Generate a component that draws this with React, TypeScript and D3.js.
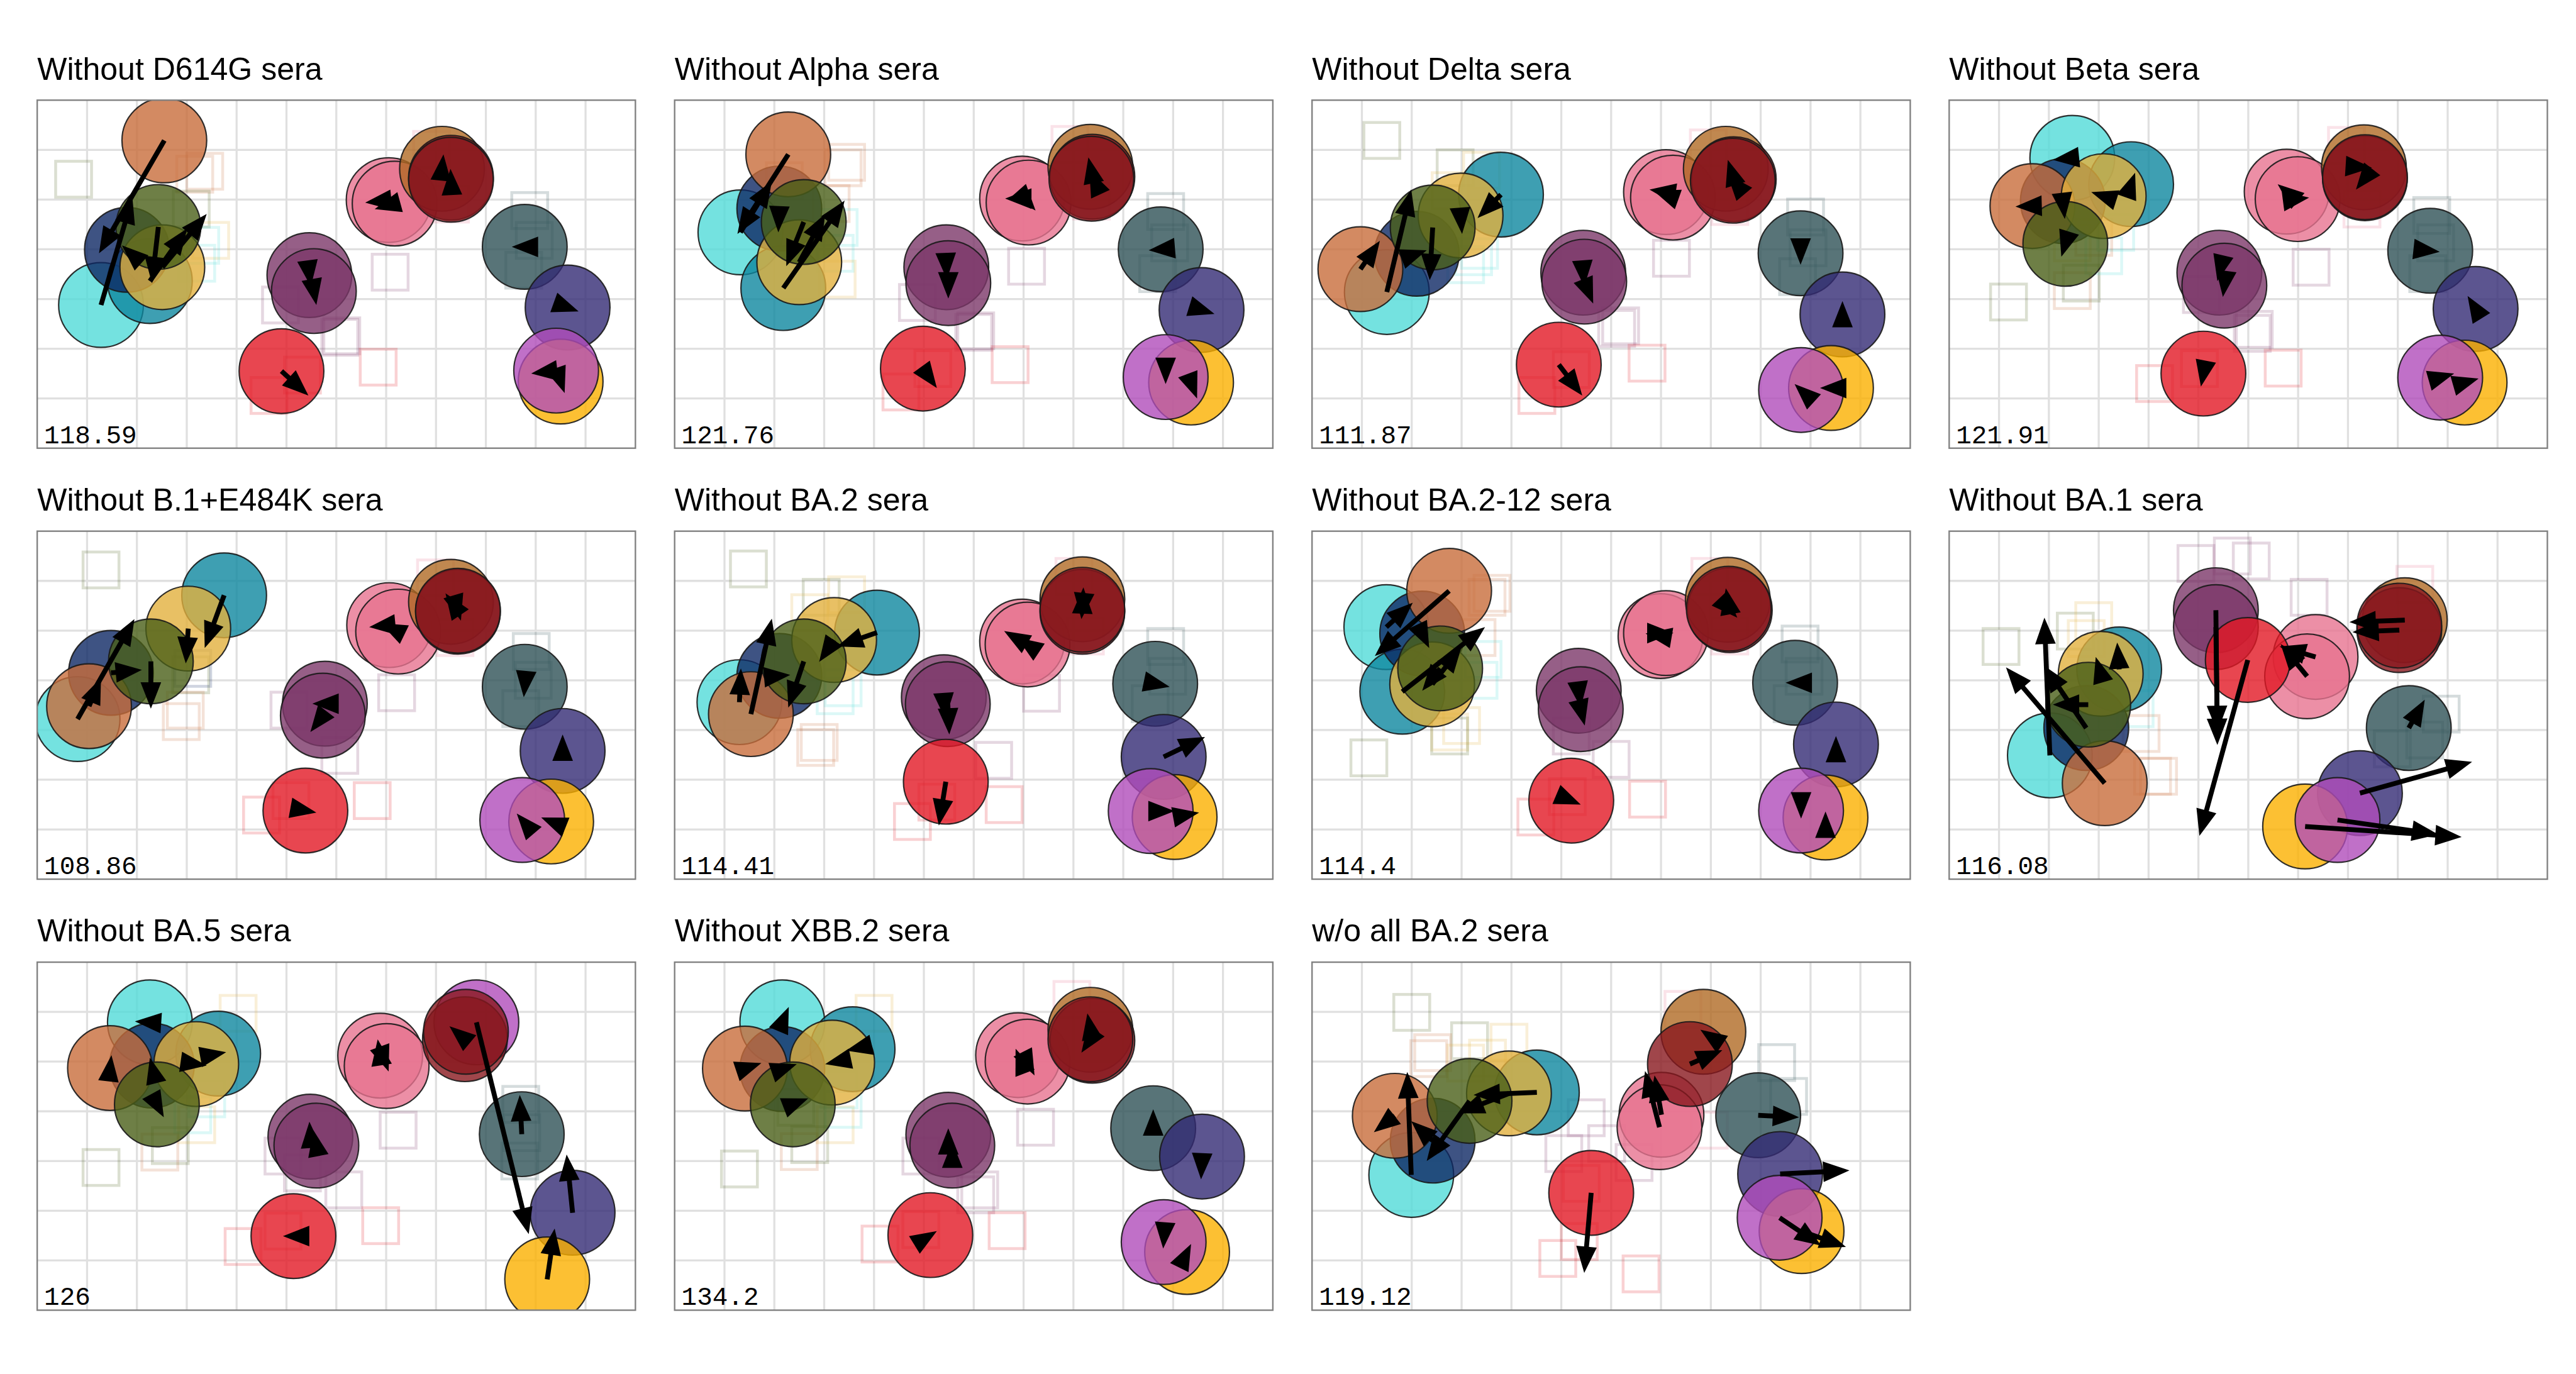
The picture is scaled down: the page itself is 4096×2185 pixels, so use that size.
import React from "react";
import * as d3 from "d3";

const K = 4096 / 4500;
const SVG_W = 4096;
const SVG_H = 2185;

// ---------- data ----------
const ANTIGEN_KEYS = ["cyan", "teal", "navy", "orange", "gold", "olive", "purpleA", "purpleB", "pinkA", "pinkB", "red", "slate", "indigo", "yellow", "orchid", "brown", "maroonA", "maroonB"];
const ANTIGEN_FILLS = ["#51DBD8", "#0E879F", "#0E2864", "#C86D3B", "#E2B03D", "#4A5F18", "#7C3769", "#7C3769", "#E77390", "#E77390", "#E21824", "#2E5156", "#332B74", "#FBB000", "#B04CBA", "#B06A24", "#88181E", "#88181E"];

const TITLES = ["Without D614G sera", "Without Alpha sera", "Without Delta sera", "Without Beta sera", "Without B.1+E484K sera", "Without BA.2 sera", "Without BA.2-12 sera", "Without BA.1 sera", "Without BA.5 sera", "Without XBB.2 sera", "w/o all BA.2 sera"];
const STRESS = ["118.59", "121.76", "111.87", "121.91", "108.86", "114.41", "114.4", "116.08", "126", "134.2", "119.12"];

type A = [number, number, number, number] | null;
type S = [string, number, number];

// antigen [x, y, arrowX, arrowY] in map units, order = ANTIGEN_KEYS
const AG_D614G: A[] = [[1.28, 4.12, 1.91, 1.96], [2.26, 3.64, 3.01, 2.58], [1.80, 3.01, 1.70, 2.92], [2.55, 0.81, 1.24, 3.08], [2.51, 3.36, 3.40, 2.29], [2.43, 2.55, 2.30, 3.68], [5.46, 3.52, 5.49, 3.75], [5.55, 3.84, 5.60, 4.12], [7.05, 2.01, 6.58, 2.06], [7.17, 2.08, 6.77, 2.19], [4.90, 5.45, 5.44, 5.94], [9.78, 2.95, 9.52, 2.95], [10.64, 4.17, 10.86, 4.25], [10.50, 5.66, 10.58, 5.89], [10.41, 5.44, 9.91, 5.50], [8.12, 1.38, 8.15, 1.09], [8.30, 1.56, 8.29, 1.38], [8.30, 1.60, 8.30, 1.60]];
const AG_ALPHA: A[] = [[1.32, 2.66, 1.95, 1.63], [2.18, 3.78, 3.41, 2.02], [2.10, 2.18, 2.08, 2.66], [2.28, 1.09, 1.26, 2.69], [2.50, 3.26, 3.02, 2.29], [2.59, 2.45, 2.24, 3.34], [5.45, 3.36, 5.46, 3.60], [5.49, 3.68, 5.49, 3.99], [6.97, 1.98, 6.63, 1.98], [7.10, 2.06, 7.24, 2.22], [4.98, 5.40, 5.26, 5.79], [9.75, 3.00, 9.51, 3.02], [10.57, 4.22, 10.83, 4.30], [10.36, 5.68, 10.48, 6.00], [9.85, 5.57, 9.85, 5.71], [8.34, 1.34, 8.30, 1.15], [8.38, 1.54, 8.32, 1.41], [8.36, 1.58, 8.36, 1.58]];
const AG_DELTA: A[] = [[1.50, 3.86, 1.99, 1.80], [3.79, 1.90, 3.32, 2.37], [2.10, 3.09, 2.30, 3.02], [0.97, 3.40, 1.36, 2.83], [2.98, 2.32, 3.01, 2.69], [2.42, 2.56, 2.36, 3.62], [5.44, 3.47, 5.46, 3.75], [5.46, 3.65, 5.64, 4.09], [7.10, 1.85, 6.77, 1.80], [7.24, 1.96, 6.85, 1.82], [4.95, 5.32, 5.42, 5.94], [9.80, 3.08, 9.80, 3.31], [10.64, 4.31, 10.64, 4.04], [10.41, 5.79, 10.19, 5.79], [9.81, 5.83, 9.68, 5.71], [8.30, 1.38, 8.30, 1.38], [8.46, 1.59, 8.34, 1.20], [8.44, 1.62, 8.33, 1.49]];
const AG_BETA: A[] = [[2.47, 1.16, 2.08, 1.20], [3.65, 1.69, 3.73, 1.46], [2.28, 2.03, 2.32, 2.39], [1.67, 2.13, 1.33, 2.14], [3.10, 1.93, 2.85, 1.85], [2.33, 2.89, 2.25, 3.15], [5.42, 3.47, 5.38, 3.64], [5.52, 3.73, 5.49, 3.96], [6.77, 1.84, 6.59, 1.69], [6.99, 1.99, 7.22, 1.96], [5.10, 5.50, 5.05, 5.76], [9.65, 3.03, 9.84, 3.05], [10.56, 4.20, 10.40, 3.94], [10.34, 5.68, 10.62, 5.60], [9.85, 5.58, 10.13, 5.50], [8.32, 1.35, 8.48, 1.36], [8.34, 1.57, 8.16, 1.80], [8.34, 1.55, 8.34, 1.55]];
const AG_E484K: A[] = [[0.81, 3.78, 1.95, 1.77], [3.75, 1.29, 3.36, 2.35], [1.48, 2.85, 2.10, 2.79], [1.04, 3.52, 1.28, 2.95], [3.03, 1.96, 2.98, 2.66], [2.28, 2.62, 2.28, 3.57], [5.77, 3.47, 5.52, 3.47], [5.73, 3.71, 5.48, 4.04], [7.06, 1.89, 6.66, 1.93], [7.24, 2.02, 6.89, 1.85], [5.38, 5.62, 5.60, 5.66], [9.78, 3.13, 9.76, 3.34], [10.54, 4.42, 10.54, 4.09], [10.31, 5.84, 10.11, 5.76], [9.73, 5.81, 9.62, 5.68], [8.30, 1.42, 8.30, 1.42], [8.44, 1.62, 8.19, 1.25], [8.44, 1.60, 8.50, 1.80]];
const AG_BA2: A[] = [[1.30, 3.44, 1.33, 2.76], [4.06, 2.04, 3.26, 2.32], [2.10, 2.91, 2.32, 2.89], [1.53, 3.68, 1.95, 1.76], [3.20, 2.19, 2.90, 2.63], [2.59, 2.62, 2.28, 3.55], [5.40, 3.34, 5.43, 3.78], [5.48, 3.48, 5.51, 4.09], [6.97, 2.22, 6.61, 2.01], [7.08, 2.28, 6.87, 2.14], [5.44, 5.04, 5.30, 5.92], [9.64, 3.07, 9.93, 3.13], [9.81, 4.54, 10.64, 4.14], [10.03, 5.75, 10.52, 5.66], [9.55, 5.63, 10.03, 5.63], [8.18, 1.37, 8.18, 1.37], [8.18, 1.62, 8.20, 1.13], [8.18, 1.58, 8.16, 1.77]];
const AG_BA212: A[] = [[1.49, 1.93, 2.02, 1.44], [1.81, 3.23, 3.47, 1.93], [2.21, 2.06, 2.35, 2.35], [2.75, 1.20, 1.26, 2.51], [2.41, 3.08, 3.00, 2.32], [2.57, 2.76, 2.21, 3.21], [5.35, 3.21, 5.39, 3.55], [5.39, 3.58, 5.47, 3.91], [6.99, 2.11, 6.69, 2.06], [7.10, 2.05, 7.25, 2.05], [5.20, 5.42, 5.39, 5.50], [9.69, 3.05, 9.50, 3.05], [10.51, 4.29, 10.51, 4.12], [10.30, 5.76, 10.30, 5.64], [9.81, 5.62, 9.81, 5.78], [8.34, 1.38, 8.34, 1.38], [8.38, 1.59, 8.30, 1.15], [8.36, 1.56, 8.53, 1.74]];
const AG_BA1: A[] = [[2.02, 4.51, 1.91, 1.74], [3.41, 2.78, 3.37, 2.24], [2.75, 3.96, 1.91, 2.71], [3.12, 5.07, 1.14, 2.74], [3.04, 2.87, 2.94, 2.53], [2.79, 3.49, 2.08, 3.49], [5.35, 1.59, 5.38, 4.30], [5.35, 1.93, 5.38, 4.04], [7.35, 2.53, 6.63, 2.32], [7.18, 2.92, 6.65, 2.27], [5.99, 2.59, 5.02, 6.13], [9.22, 3.96, 9.54, 3.39], [8.24, 5.27, 10.49, 4.64], [7.14, 5.94, 10.28, 6.15], [7.79, 5.81, 9.81, 6.10], [9.14, 1.79, 8.03, 1.83], [9.03, 1.99, 8.09, 2.03], [9.03, 1.90, 9.03, 1.90]];
const AG_BA5: A[] = [[2.26, 1.21, 1.96, 1.19], [3.63, 1.84, 3.79, 1.81], [2.30, 2.08, 2.26, 1.92], [1.46, 2.13, 1.49, 1.87], [3.19, 2.05, 3.40, 2.08], [2.40, 2.86, 2.54, 3.12], [5.48, 3.51, 5.46, 3.21], [5.60, 3.69, 5.54, 3.38], [6.88, 1.88, 6.83, 1.55], [7.01, 2.09, 7.05, 2.20], [5.14, 5.51, 4.93, 5.51], [9.72, 3.46, 9.68, 2.67], [10.74, 5.04, 10.62, 3.87], [10.23, 6.38, 10.38, 5.36], [8.81, 1.21, 9.86, 5.47], null, [8.58, 1.55, 8.27, 1.29], [8.60, 1.40, 8.60, 1.40]];
const AG_XBB2: A[] = [[2.16, 1.21, 2.29, 0.90], [3.57, 1.75, 3.44, 1.78], [2.16, 2.15, 2.45, 2.05], [1.41, 2.14, 1.74, 2.03], [3.16, 2.02, 3.02, 2.05], [2.37, 2.86, 2.68, 2.74], [5.49, 3.47, 5.49, 3.34], [5.57, 3.69, 5.57, 3.61], [6.89, 1.87, 6.84, 1.74], [7.08, 2.00, 7.22, 2.28], [5.13, 5.49, 5.26, 5.41], [9.60, 3.34, 9.60, 2.96], [10.58, 3.91, 10.56, 4.37], [10.28, 5.83, 10.36, 5.67], [9.81, 5.63, 9.80, 5.76], [8.34, 1.36, 8.34, 1.36], [8.38, 1.58, 8.28, 1.03], [8.34, 1.55, 8.16, 1.82]];
const AG_ALLBA2: A[] = [[1.99, 4.28, 1.91, 2.21], [4.51, 2.62, 3.24, 2.67], [2.42, 3.59, 1.99, 3.20], [1.66, 3.09, 1.24, 3.42], [3.95, 2.64, 2.93, 3.04], [3.16, 2.79, 2.30, 4.00], null, null, [7.01, 3.07, 6.87, 2.28], [6.97, 3.32, 6.68, 2.19], [5.60, 4.64, 5.46, 6.25], [8.95, 3.08, 9.77, 3.12], [9.39, 4.26, 10.78, 4.19], [9.82, 5.41, 10.71, 5.73], [9.38, 5.14, 10.21, 5.70], [7.85, 1.40, 7.79, 1.36], [7.58, 2.05, 8.23, 1.77], null];

// sera [antigen colour key, x, y]
const SR_D614G: S[] = [["olive", 0.73, 1.59], ["orange", 3.36, 1.43], ["orange", 3.16, 1.49], ["olive", 3.09, 2.19], ["gold", 3.48, 2.82], ["cyan", 3.28, 2.92], ["cyan", 3.20, 3.28], ["purpleA", 4.88, 4.12], ["purpleA", 6.11, 4.74], ["purpleA", 6.07, 4.77], ["purpleA", 7.08, 3.46], ["red", 6.84, 5.37], ["red", 4.65, 5.94], ["red", 5.32, 5.53], ["pinkA", 7.91, 0.99], ["pinkA", 8.29, 2.09], ["slate", 9.88, 2.22], ["slate", 9.97, 2.82], ["slate", 9.76, 3.42]];
const SR_ALPHA: S[] = [["orange", 3.45, 1.25], ["orange", 3.38, 1.36], ["orange", 2.20, 1.62], ["orange", 3.14, 2.08], ["cyan", 3.30, 2.56], ["cyan", 3.22, 3.08], ["gold", 3.26, 3.60], ["purpleA", 4.87, 4.07], ["purpleA", 6.04, 4.64], ["purpleA", 6.00, 4.67], ["purpleA", 7.06, 3.34], ["red", 6.73, 5.32], ["red", 4.54, 5.87], ["red", 5.18, 5.40], ["pinkA", 7.93, 0.89], ["pinkA", 8.36, 2.03], ["slate", 9.85, 2.24], ["slate", 9.93, 2.87], ["slate", 9.69, 3.49]];
const SR_DELTA: S[] = [["olive", 1.40, 0.81], ["olive", 2.87, 1.36], ["gold", 3.40, 1.41], ["gold", 2.77, 1.82], ["cyan", 3.24, 3.15], ["cyan", 3.08, 3.31], ["cyan", 3.36, 3.02], ["purpleA", 7.21, 3.18], ["purpleA", 6.19, 4.54], ["purpleA", 6.11, 4.59], ["red", 6.72, 5.29], ["red", 4.51, 5.94], ["red", 5.20, 5.42], ["pinkA", 7.95, 0.96], ["pinkA", 8.38, 2.14], ["slate", 9.90, 2.35], ["slate", 9.95, 2.97], ["slate", 9.74, 3.55]];
const SR_BETA: S[] = [["olive", 1.19, 4.06], ["orange", 2.47, 3.83], ["olive", 2.65, 3.68], ["cyan", 3.10, 3.13], ["cyan", 3.34, 2.66], ["orange", 2.90, 2.76], ["gold", 2.47, 2.87], ["purpleA", 7.26, 3.36], ["purpleA", 6.08, 4.69], ["purpleA", 6.12, 4.61], ["purpleA", 5.06, 3.91], ["red", 6.70, 5.39], ["red", 4.12, 5.70], ["red", 5.02, 5.40], ["pinkA", 7.97, 0.91], ["pinkA", 8.28, 2.19], ["slate", 9.68, 2.32], ["slate", 9.76, 2.87], ["slate", 9.60, 3.49]];
const SR_E484K: S[] = [["olive", 1.28, 0.78], ["olive", 3.08, 2.89], ["orange", 2.97, 3.60], ["orange", 2.89, 3.83], ["navy", 3.12, 2.76], ["purpleA", 5.05, 3.60], ["purpleA", 6.07, 4.51], ["purpleA", 7.21, 3.25], ["red", 6.72, 5.42], ["red", 4.50, 5.71], ["red", 5.09, 5.42], ["pinkA", 7.99, 0.94], ["pinkA", 8.38, 2.14], ["slate", 9.91, 2.42], ["slate", 9.95, 3.00], ["slate", 9.70, 3.57]];
const SR_BA2: S[] = [["olive", 1.48, 0.76], ["olive", 2.94, 1.33], ["gold", 3.45, 1.28], ["gold", 2.71, 1.64], ["cyan", 3.38, 3.15], ["cyan", 3.22, 3.31], ["orange", 2.90, 4.25], ["orange", 2.83, 4.35], ["purpleA", 7.36, 3.26], ["purpleA", 6.40, 4.61], ["red", 6.61, 5.50], ["red", 4.77, 5.84], ["red", 5.26, 5.45], ["pinkA", 8.01, 0.91], ["pinkA", 8.24, 2.11], ["slate", 9.85, 2.32], ["slate", 9.89, 2.92], ["slate", 9.54, 3.47]];
const SR_BA212: S[] = [["olive", 1.14, 4.56], ["orange", 3.61, 1.25], ["orange", 3.51, 1.33], ["orange", 3.31, 2.14], ["cyan", 3.43, 2.58], ["cyan", 3.35, 3.00], ["gold", 3.00, 3.91], ["gold", 2.76, 4.04], ["olive", 2.76, 4.12], ["purpleA", 5.20, 4.12], ["purpleA", 6.00, 4.59], ["red", 6.73, 5.39], ["red", 4.49, 5.75], ["red", 5.12, 5.34], ["pinkA", 7.98, 0.91], ["pinkA", 8.38, 2.11], ["slate", 9.79, 2.27], ["slate", 9.87, 2.92], ["slate", 9.63, 3.47]];
const SR_BA1: S[] = [["olive", 1.04, 2.32], ["olive", 2.53, 2.01], ["gold", 2.90, 1.80], ["gold", 2.75, 2.16], ["cyan", 3.73, 3.57], ["orange", 3.85, 4.07], ["orange", 4.08, 4.93], ["orange", 4.20, 4.93], ["purpleA", 4.95, 0.65], ["purpleA", 5.68, 0.50], ["purpleA", 6.06, 0.60], ["purpleA", 7.22, 1.33], ["pinkA", 9.34, 1.07], ["slate", 9.87, 3.68], ["slate", 8.89, 4.38], ["slate", 9.54, 4.20]];
const SR_BA5: S[] = [["gold", 4.03, 1.03], ["olive", 1.28, 4.13], ["orange", 2.46, 3.82], ["olive", 2.67, 3.69], ["gold", 3.20, 3.27], ["cyan", 3.12, 3.07], ["cyan", 3.40, 2.75], ["purpleA", 7.24, 3.38], ["purpleA", 6.15, 4.58], ["purpleA", 5.32, 4.24], ["purpleA", 4.93, 3.90], ["red", 6.89, 5.30], ["red", 4.13, 5.72], ["red", 4.93, 5.41], ["slate", 9.70, 2.86], ["slate", 9.72, 3.43], ["slate", 9.68, 4.00]];
const SR_XBB2: S[] = [["gold", 4.00, 1.03], ["olive", 1.30, 4.16], ["orange", 2.50, 3.81], ["olive", 2.71, 3.67], ["gold", 3.22, 3.27], ["cyan", 3.38, 2.96], ["cyan", 3.30, 2.57], ["olive", 2.43, 2.92], ["purpleA", 7.24, 3.32], ["purpleA", 6.12, 4.58], ["purpleA", 6.04, 4.68], ["purpleA", 4.94, 3.90], ["red", 6.67, 5.40], ["red", 4.12, 5.67], ["red", 4.94, 5.38], ["pinkA", 7.97, 0.75]];
const SR_ALLBA2: S[] = [["olive", 2.00, 1.01], ["olive", 3.16, 1.58], ["gold", 3.95, 1.61], ["orange", 2.42, 1.82], ["orange", 2.34, 1.94], ["gold", 3.52, 1.93], ["gold", 3.08, 2.03], ["purpleA", 5.50, 3.13], ["purpleA", 5.05, 3.85], ["purpleA", 5.91, 3.65], ["purpleA", 6.46, 4.03], ["red", 5.40, 4.45], ["red", 4.93, 5.96], ["red", 5.36, 5.62], ["red", 6.60, 6.27], ["pinkA", 7.44, 0.95], ["pinkA", 7.97, 3.38], ["slate", 9.32, 2.02], ["slate", 9.56, 2.70]];

const ANTIGEN_SETS = [AG_D614G, AG_ALPHA, AG_DELTA, AG_BETA, AG_E484K, AG_BA2, AG_BA212, AG_BA1, AG_BA5, AG_XBB2, AG_ALLBA2];
const SERA_SETS = [SR_D614G, SR_ALPHA, SR_DELTA, SR_BETA, SR_E484K, SR_BA2, SR_BA212, SR_BA1, SR_BA5, SR_XBB2, SR_ALLBA2];

// ---------- layout (reference px, scaled by K) ----------
const COL_LEFT = [65, 1178.5, 2292, 3405];
const ROW_TOP = [175, 928, 1681];
const BOX_W = 1045;
const BOX_H = 608;
const X_UNITS = 12;
const Y_UNITS = 7;
const RADIUS_U = 0.85;
const SQUARE_U = 0.72;

const fillOf = (key: string) => ANTIGEN_FILLS[ANTIGEN_KEYS.indexOf(key)];

function Arrow({ x1, y1, x2, y2 }: { x1: number; y1: number; x2: number; y2: number }) {
  const dx = x2 - x1, dy = y2 - y1;
  const len = Math.hypot(dx, dy);
  if (len < 0.5) return null;
  const ux = dx / len, uy = dy / len;
  const hl = 46 * K, hw = 36 * K;
  const bx = x2 - ux * hl, by = y2 - uy * hl;
  const px = -uy, py = ux;
  const tri = `M${x2},${y2}L${bx + (px * hw) / 2},${by + (py * hw) / 2}L${bx - (px * hw) / 2},${by - (py * hw) / 2}Z`;
  return (
    <g>
      {len > hl && <line x1={x1} y1={y1} x2={bx + ux * 2} y2={by + uy * 2} stroke="#000" strokeWidth={8.5 * K} />}
      <path d={tri} fill="#000" />
    </g>
  );
}

function Panel({ idx }: { idx: number }) {
  const col = idx % 4, row = Math.floor(idx / 4);
  const left = COL_LEFT[col] * K, top = ROW_TOP[row] * K;
  const w = BOX_W * K, h = BOX_H * K;
  const x = d3.scaleLinear().domain([0, X_UNITS]).range([left, left + w]);
  const y = d3.scaleLinear().domain([0, Y_UNITS]).range([top, top + h]);
  const r = x(RADIUS_U) - x(0);
  const sq = x(SQUARE_U) - x(0);
  const ag = ANTIGEN_SETS[idx];
  const sera = SERA_SETS[idx];
  const clipId = `clip${idx}`;
  return (
    <g>
      <defs>
        <clipPath id={clipId}>
          <rect x={left} y={top} width={w} height={h} />
        </clipPath>
      </defs>
      <text x={left} y={top - 36 * K} fontFamily="'Liberation Sans', Arial, sans-serif" fontSize={55 * K} fill="#000">
        {TITLES[idx]}
      </text>
      <rect x={left} y={top} width={w} height={h} fill="#fff" />
      <g clipPath={`url(#${clipId})`}>
        {d3.range(1, X_UNITS).map((v) => (
          <line key={"gx" + v} x1={x(v)} x2={x(v)} y1={top} y2={top + h} stroke="#e0e0e0" strokeWidth={3.6 * K} />
        ))}
        {d3.range(1, Y_UNITS).map((v) => (
          <line key={"gy" + v} x1={left} x2={left + w} y1={y(v)} y2={y(v)} stroke="#e0e0e0" strokeWidth={3.6 * K} />
        ))}
        {sera.map((s, i) => (
          <rect key={"s" + i} x={x(s[1]) - sq / 2} y={y(s[2]) - sq / 2} width={sq} height={sq} fill="none" stroke={fillOf(s[0])} strokeOpacity={0.2} strokeWidth={5 * K} />
        ))}
        {ag.map((a, i) =>
          a ? (
            <circle key={"a" + i} cx={x(a[0])} cy={y(a[1])} r={r} fill={ANTIGEN_FILLS[i]} fillOpacity={0.8} stroke="#1a1a1a" strokeOpacity={0.9} strokeWidth={2.4 * K} />
          ) : null
        )}
        {ag.map((a, i) => (a ? <Arrow key={"ar" + i} x1={x(a[0])} y1={y(a[1])} x2={x(a[2])} y2={y(a[3])} /> : null))}
      </g>
      <rect x={left} y={top} width={w} height={h} fill="none" stroke="#808080" strokeWidth={2.6 * K} />
      <text x={left + 12 * K} y={top + h - 9 * K} fontFamily="'Liberation Mono', 'DejaVu Sans Mono', monospace" fontSize={45 * K} fill="#000">
        {STRESS[idx]}
      </text>
    </g>
  );
}

export default function App() {
  return (
    <svg width={SVG_W} height={SVG_H} style={{ position: "absolute", left: 0, top: 0, background: "#fff" }}>
      <rect x={0} y={0} width={SVG_W} height={SVG_H} fill="#fff" />
      {TITLES.map((_, i) => (
        <Panel key={i} idx={i} />
      ))}
    </svg>
  );
}
